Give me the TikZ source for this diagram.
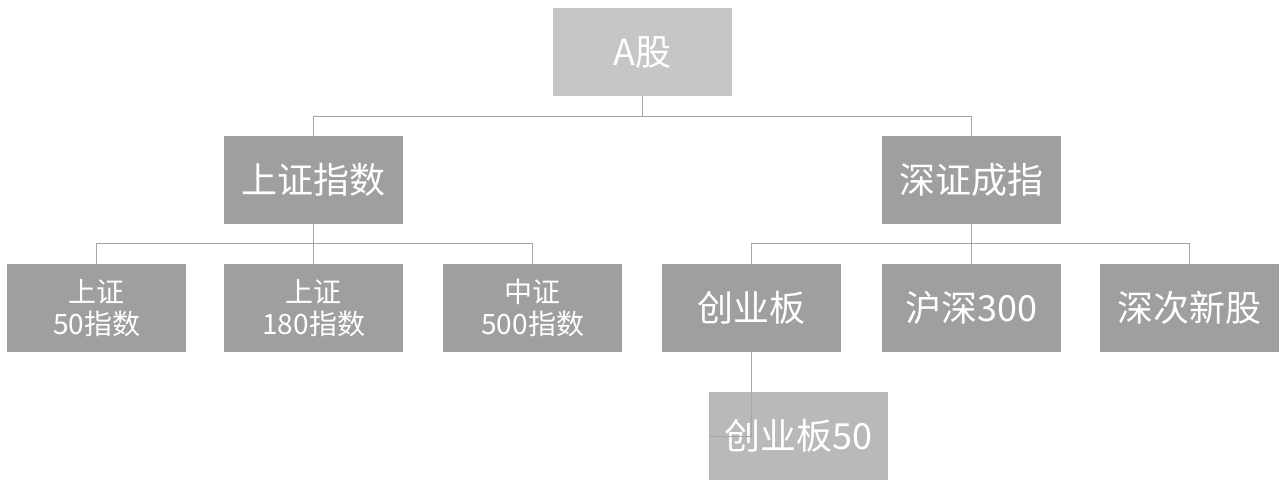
\documentclass[tikz,border=0pt]{standalone}
\usepackage{fontspec}
\setmainfont{Noto Sans CJK SC}
\begin{document}
\begin{tikzpicture}[x=1pt,y=-1pt,
  bx/.style={fill=#1,text=white,minimum width=179pt,minimum height=88pt,inner sep=0pt,anchor=north west,align=center},
  big/.style={font=\fontsize{36}{40}\selectfont},
  two/.style={font=\fontsize{28}{32}\selectfont},
  ln/.style={draw=gray!70,line width=1pt}]
\useasboundingbox (0,0) rectangle (1288,489);
\node[bx=gray!45,big] (a) at (553,8) {A股};
\node[bx=gray!75,big] (sh) at (224,136) {上证指数};
\node[bx=gray!75,big] (sz) at (882,136) {深证成指};
\node[bx=gray!75,two] (s50) at (7,264) {上证\\50指数};
\node[bx=gray!75,two] (s180) at (224,264) {上证\\180指数};
\node[bx=gray!75,two] (z500) at (443,264) {中证\\500指数};
\node[bx=gray!75,big] (cy) at (662,264) {创业板};
\node[bx=gray!75,big] (hs) at (882,264) {沪深300};
\node[bx=gray!75,big] (sc) at (1100,264) {深次新股};
\node[bx=gray!100!black!55,big] (cy50) at (709,392) {创业板50};
\draw[ln] (a.south) |- ++(0,20) -| (sh.north);
\draw[ln] (a.south) |- ++(0,20) -| (sz.north);
\draw[ln] (sh.south) |- ++(0,19) -| (s50.north);
\draw[ln] (sh.south) -- (s180.north);
\draw[ln] (sh.south) |- ++(0,19) -| (z500.north);
\draw[ln] (sz.south) |- ++(0,19) -| (cy.north);
\draw[ln] (sz.south) -- (hs.north);
\draw[ln] (sz.south) |- ++(0,19) -| (sc.north);
\draw[ln] (cy.south) |- (cy50.west);
\end{tikzpicture}
\end{document}
